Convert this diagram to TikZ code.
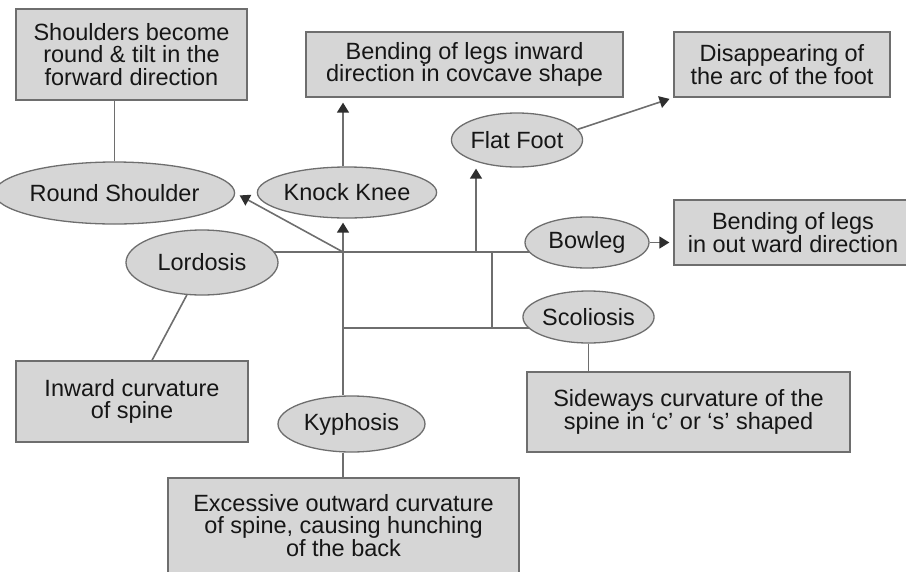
\documentclass[tikz,border=0pt]{standalone}
\usepackage{fontspec}
\setmainfont{Liberation Sans}
\usepackage{tikz}
\usetikzlibrary{arrows.meta,positioning,shapes.geometric,backgrounds}
\definecolor{SoftGray}{HTML}{D6D6D6}
\definecolor{LineGray}{HTML}{6E6E6E}
\definecolor{InkGray}{HTML}{161616}
\definecolor{TipGray}{HTML}{2E2E2E}

\begin{document}
\begin{tikzpicture}[
  x=1pt,y=-1pt,
  font=\fontsize{23.5}{22.7}\selectfont,
  box/.style={draw=LineGray,line width=1.3pt,fill=SoftGray,text=InkGray,align=center,inner sep=0pt},
  oval/.style={ellipse,draw=LineGray,line width=1.3pt,fill=SoftGray,text=InkGray,inner sep=0pt},
  link/.style={draw=LineGray,line width=1.6pt},
  arr/.style={link,-{Triangle[length=10pt,width=12pt,color=TipGray]}}
]
\useasboundingbox (0,0) rectangle (906,571);
\node[box,minimum width=231pt,minimum height=91pt] (shbox) at (131.5,54.5) {Shoulders become\\round \& tilt in the\\forward direction};
\node[box,minimum width=317pt,minimum height=65pt] (kneebox) at (464.5,64.5) {Bending of legs inward\\direction in covcave shape};
\node[box,minimum width=216pt,minimum height=65pt] (footbox) at (782,64.5) {Disappearing of\\the arc of the foot};
\node[box,minimum width=238pt,minimum height=65pt] (bowbox) at (793,232.5) {Bending of legs\\in out ward direction};
\node[box,minimum width=323pt,minimum height=80pt] (sidebox) at (688.5,412) {Sideways curvature of the\\spine in `c' or `s' shaped};
\node[box,minimum width=232pt,minimum height=81pt] (inbox) at (132,401.5) {Inward curvature\\of spine};
\node[box,minimum width=351pt,minimum height=95pt] (excbox) at (343.5,525.5) {Excessive outward curvature\\of spine, causing hunching\\of the back};

\node[oval,minimum width=213pt,minimum height=62pt] (rshoulder) at (114.5,193) {Round Shoulder};
\node[oval,minimum width=154pt,minimum height=51pt] (knock) at (347,192.5) {Knock Knee};
\node[oval,minimum width=130pt,minimum height=54pt] (flat) at (517,140) {Flat Foot};
\node[oval,minimum width=152pt,minimum height=65pt] (lord) at (202,262.5) {Lordosis};
\node[oval,minimum width=124pt,minimum height=51pt] (bowleg) at (587,242.5) {Bowleg};
\node[oval,minimum width=127pt,minimum height=52pt] (scol) at (588.5,317) {Scoliosis};
\node[oval,minimum width=147pt,minimum height=56pt] (kyph) at (351.5,424) {Kyphosis};

\coordinate (hub) at (343,252);
\coordinate (ffbase) at (476,252);
\coordinate (sc) at (492,328);

\begin{scope}[on background layer]
\draw[link] (hub -| lord) -- (hub -| bowleg);
\draw[link] (hub |- sc) -- (sc -| scol);
\end{scope}
\draw[link] (sc) -- (sc |- hub);
\draw[arr,shorten >=4pt] (kyph.north -| hub) -- (knock.south -| hub);
\draw[arr,shorten >=5pt] (knock.north -| hub) -- (kneebox.south -| hub);
\draw[arr,shorten >=5pt] (hub) -- (rshoulder.east);
\draw[arr,shorten >=1pt] (ffbase) -- (ffbase |- flat.south);
\draw[arr,shorten >=4pt] (flat.10) -- (footbox.south west);
\draw[arr,shorten >=4pt] (bowleg.east) -- (bowleg.east -| bowbox.west);
\draw[link] (rshoulder.north) -- (rshoulder.north |- shbox.south);
\draw[link] (lord.245) -- ([xshift=20pt]inbox.north);
\draw[link] (scol.south) -- (scol.south |- sidebox.north);
\draw[link] (kyph.south -| hub) -- (excbox.north -| hub);
\end{tikzpicture}
\end{document}
